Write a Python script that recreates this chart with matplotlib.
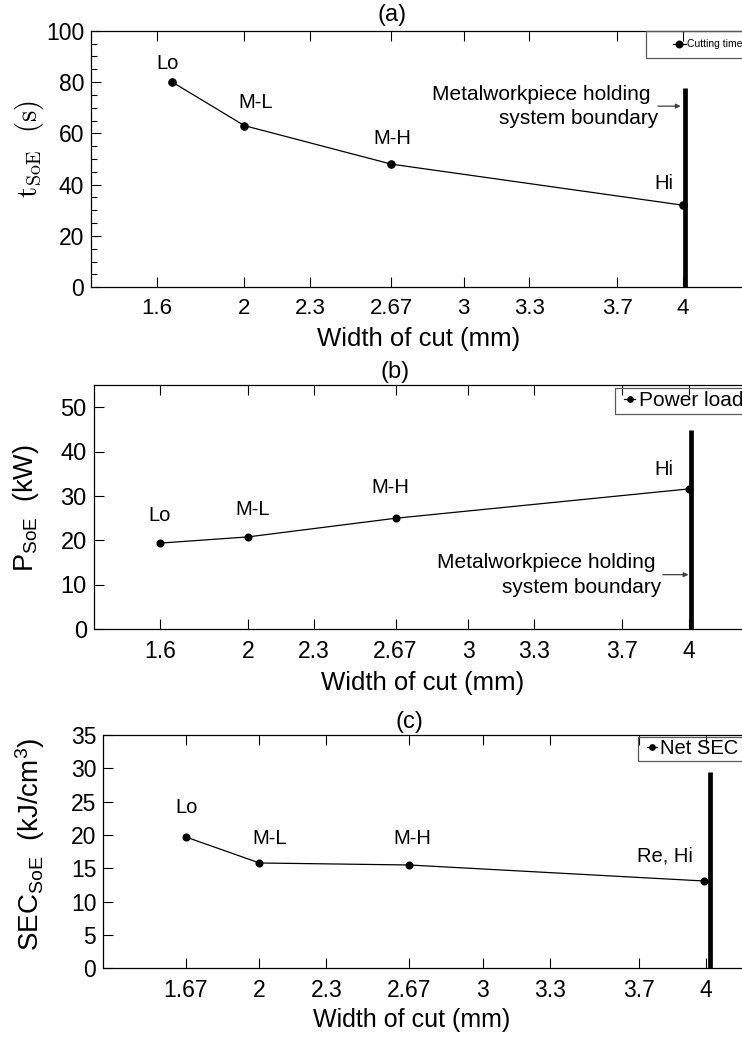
import matplotlib
matplotlib.use('Agg')
import matplotlib.pyplot as plt
from matplotlib.patches import Rectangle

plt.rcParams['font.family'] = ['Liberation Sans', 'DejaVu Sans']
plt.rcParams['mathtext.fontset'] = 'custom'
plt.rcParams['mathtext.rm'] = 'Liberation Sans'
plt.rcParams['mathtext.it'] = 'Liberation Sans:italic'
plt.rcParams['mathtext.bf'] = 'Liberation Sans:bold'

# ---------------- data ----------------
levels_a = ['Lo', 'M-L', 'M-H', 'Hi']
width_a = [1.67, 2.0, 2.67, 4.0]
time_a = [80, 63, 48, 32]
boundary_a = (4.01, 77.5)

levels_b = ['Lo', 'M-L', 'M-H', 'Hi']
width_b = [1.6, 2.0, 2.67, 4.0]
power_b = [19.4, 20.8, 25.0, 31.6]
boundary_b = (4.01, 44.8)

levels_c = ['Lo', 'M-L', 'M-H', 'Re, Hi']
width_c = [1.67, 2.0, 2.67, 3.99]
sec_c = [19.7, 15.8, 15.5, 13.1]
boundary_c = (4.02, 29.5)

xticks_ab = [1.6, 2, 2.3, 2.67, 3, 3.3, 3.7, 4]
xticklabels_ab = ['1.6', '2', '2.3', '2.67', '3', '3.3', '3.7', '4']
xticks_c = [1.67, 2, 2.3, 2.67, 3, 3.3, 3.7, 4]
xticklabels_c = ['1.67', '2', '2.3', '2.67', '3', '3.3', '3.7', '4']

# ---------------- layout helpers ----------------
W, H = 742, 1039
fig = plt.figure(figsize=(W / 100, H / 100), dpi=100)


def fx(px):
    return px / W


def fy(py):
    return 1 - py / H


def add_ax(left, top, right, bottom):
    return fig.add_axes([fx(left), fy(bottom), (right - left) / W, (bottom - top) / H])


def style(ax, ylabsize, xlabsize):
    ax.tick_params(axis='both', direction='in', top=True, right=False,
                   length=7, width=0.8)
    ax.tick_params(axis='y', labelsize=ylabsize, pad=5)
    ax.tick_params(axis='x', labelsize=xlabsize, pad=8)
    for s in ax.spines.values():
        s.set_linewidth(0.9)


def legend_box(ax, line, label, box_left, box_top, box_bottom, handle_x, fs,
               hlen, msize):
    fig.add_artist(Rectangle((fx(box_left), fy(box_bottom)), fx(900 - box_left),
                             (box_bottom - box_top) / H, transform=fig.transFigure,
                             fill=False, ec='0.35', lw=0.9))
    leg = ax.legend([line], [label], loc='center left',
                    bbox_to_anchor=(fx(handle_x), fy((box_top + box_bottom) / 2)),
                    bbox_transform=fig.transFigure, frameon=False, fontsize=fs,
                    handlelength=hlen, handletextpad=0.15, borderpad=0,
                    borderaxespad=0, markerscale=msize)
    return leg


def point_labels(ax, xs, ys, labels, offsets):
    for x, y, lab, (dx, dy) in zip(xs, ys, labels, offsets):
        ax.annotate(lab, (x, y), xytext=(dx, dy), textcoords='offset pixels',
                    ha='center', va='center', fontsize=14.5)


# ---------------- panel (a) ----------------
axa = add_ax(91, 30.7, 748.6, 287.3)
la, = axa.plot(width_a, time_a, '-o', color='black', lw=0.9, ms=5.2)
axa.plot([boundary_a[0]] * 2, [0, boundary_a[1]], color='black', lw=3.4,
         solid_capstyle='butt')
axa.set_xlim(1.3, 4.3)
axa.set_ylim(0, 100)
axa.set_yticks(range(0, 101, 20))
axa.set_yticks(range(0, 101, 5), minor=True)
axa.set_xticks(xticks_ab)
axa.set_xticklabels(xticklabels_ab)
style(axa, 16.5, 16)
axa.tick_params(axis='y', which='minor', direction='in', length=4, width=0.8)
point_labels(axa, width_a, time_a, levels_a,
             [(-5, 19), (11, 23), (1, 26), (-19, 22)])
axa.text(3.852, 75.2, 'Metalworkpiece holding', ha='right', va='center', fontsize=15)
axa.text(3.886, 65.6, 'system boundary', ha='right', va='center', fontsize=15)
axa.annotate('', xy=(3.99, 70.6), xytext=(3.886, 70.6),
             arrowprops=dict(arrowstyle='-|>', color='0.25', lw=0.9,
                             mutation_scale=7, shrinkA=0, shrinkB=0))
legend_box(axa, la, 'Cutting time', 646, 30.7, 57.7, 673, 7.5, 1.2, 0.9)
fig.text(fx(392), fy(15), '(a)', ha='center', va='center', fontsize=17)
fig.text(fx(419), fy(339), 'Width of cut (mm)', ha='center', va='center', fontsize=18.5)
fig.text(fx(29), fy(149), r'$\mathrm{t}_{\mathrm{SoE}}\ \ \mathrm{(s)}$',
         rotation=90, ha='center', va='center', fontsize=20.5, math_fontfamily='cm')

# ---------------- panel (b) ----------------
axb = add_ax(93.7, 385, 754.6, 629.3)
lb, = axb.plot(width_b, power_b, '-o', color='black', lw=0.9, ms=4.8)
axb.plot([boundary_b[0]] * 2, [0, boundary_b[1]], color='black', lw=3.4,
         solid_capstyle='butt')
axb.set_xlim(1.3, 4.3)
axb.set_ylim(0, 55)
axb.set_yticks(range(0, 51, 10))
axb.set_xticks(xticks_ab)
axb.set_xticklabels(xticklabels_ab)
style(axb, 17, 16.5)
point_labels(axb, width_b, power_b, levels_b,
             [(0, 28), (5, 27), (-5, 31), (-25, 19)])
axb.text(3.85, 15.1, 'Metalworkpiece holding', ha='right', va='center', fontsize=15)
axb.text(3.878, 9.37, 'system boundary', ha='right', va='center', fontsize=15)
axb.annotate('', xy=(4.0, 12.3), xytext=(3.883, 12.3),
             arrowprops=dict(arrowstyle='-|>', color='0.25', lw=0.9,
                             mutation_scale=7, shrinkA=0, shrinkB=0))
legend_box(axb, lb, 'Power load', 615, 387.7, 414.3, 624, 15, 0.55, 0.8)
fig.text(fx(395), fy(372), '(b)', ha='center', va='center', fontsize=17)
fig.text(fx(423), fy(683), 'Width of cut (mm)', ha='center', va='center', fontsize=18.5)
fig.text(fx(26), fy(508), r'P$_{\mathrm{SoE}}$  (kW)', rotation=90,
         ha='center', va='center', fontsize=19.5)

# ---------------- panel (c) ----------------
axc = add_ax(103.2, 735, 773, 968.3)
lc, = axc.plot(width_c, sec_c, '-o', color='black', lw=0.9, ms=4.8)
axc.plot([boundary_c[0]] * 2, [0, boundary_c[1]], color='black', lw=3.4,
         solid_capstyle='butt')
axc.set_xlim(1.3, 4.3)
axc.set_ylim(0, 35)
axc.set_yticks(range(0, 36, 5))
axc.set_xticks(xticks_c)
axc.set_xticklabels(xticklabels_c)
style(axc, 16.5, 16.5)
point_labels(axc, width_c, sec_c, levels_c,
             [(1, 29), (10, 24), (3, 26), (-39, 25)])
legend_box(axc, lc, 'Net SEC', 637.5, 736.7, 761, 647, 14.5, 0.5, 0.8)
fig.text(fx(409), fy(722), '(c)', ha='center', va='center', fontsize=17)
fig.text(fx(412), fy(1020), 'Width of cut (mm)', ha='center', va='center', fontsize=18)
fig.text(fx(30), fy(844), r'SEC$_{\mathrm{SoE}}$  (kJ/cm$^{3}$)', rotation=90,
         ha='center', va='center', fontsize=20)

fig.savefig('out.png', dpi=100, facecolor='white')
